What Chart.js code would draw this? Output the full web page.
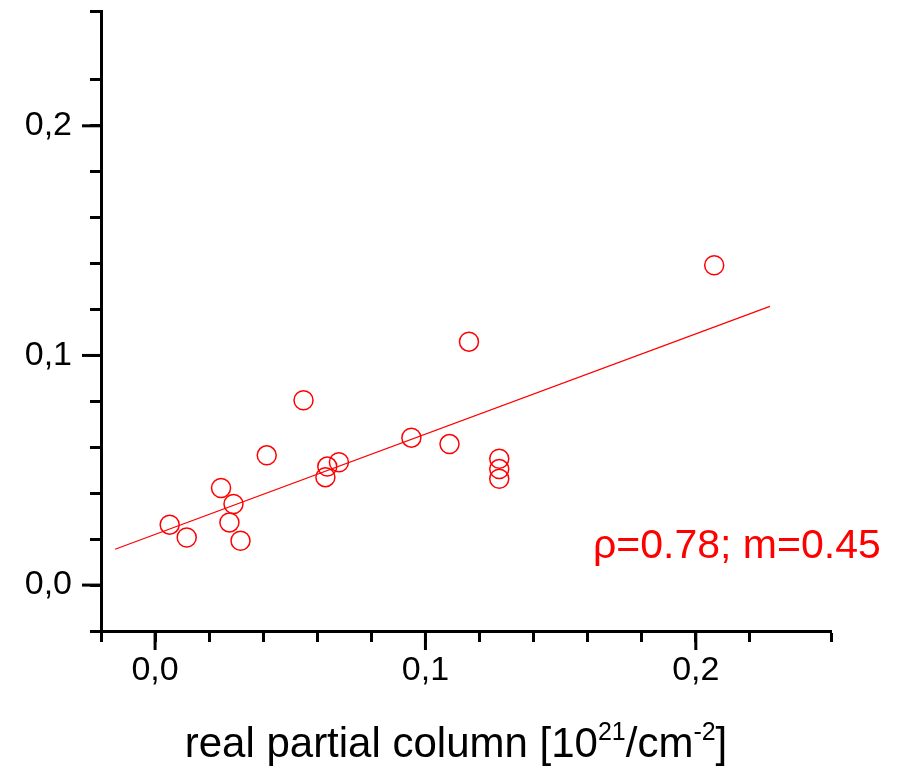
<!DOCTYPE html>
<html>
<head>
<meta charset="utf-8">
<script src="https://cdn.jsdelivr.net/npm/chart.js@4/dist/chart.umd.min.js"></script>
<style>
  html, body { margin: 0; padding: 0; background: #fff; }
</style>
</head>
<body>
<canvas id="scatterChart" width="900" height="774"></canvas>
<script>
// real partial column (x) vs. retrieved partial column (y)
const xVals = [0.0054, 0.0117, 0.0244, 0.0275, 0.0290, 0.0316, 0.0413, 0.0549, 0.0630,
               0.0637, 0.0680, 0.0948, 0.1089, 0.1161, 0.1273, 0.1273, 0.1273, 0.2068];
const yVals = [0.0263, 0.0207, 0.0423, 0.0273, 0.0353, 0.0193, 0.0565, 0.0805, 0.0470,
               0.0516, 0.0535, 0.0642, 0.0614, 0.1060, 0.0550, 0.0505, 0.0463, 0.1393];

// fitted line end points
const fitX = [-0.0148, 0.2274];
const fitY = [0.0156, 0.1214];

const noteText = 'ρ=0.78; m=0.45';
const titleParts = [
    { t: 'real partial column [10', sup: false },
    { t: '21', sup: true },
    { t: '/cm', sup: false },
    { t: '-2', sup: true },
    { t: ']', sup: false }
];

const FONT = '"Liberation Sans", Arial, sans-serif';

function isMajor(v) {
    return Math.abs(v / 0.1 - Math.round(v / 0.1)) < 1e-6;
}
function tickLabel(v) {
    return isMajor(v) ? v.toFixed(1).replace('.', ',') : '';
}

// longer major ticks, note text and axis title with superscripts
const overlay = {
    id: 'overlay',
    afterDraw(chart) {
        const ctx = chart.ctx;
        const xs = chart.scales.x, ys = chart.scales.y;
        ctx.save();
        ctx.strokeStyle = '#000';
        ctx.lineWidth = 3;
        xs.ticks.forEach(t => {
            if (!isMajor(t.value)) return;
            const px = xs.getPixelForValue(t.value);
            ctx.beginPath();
            ctx.moveTo(px, xs.top);
            ctx.lineTo(px, xs.top + 19);
            ctx.stroke();
        });
        ys.ticks.forEach(t => {
            if (!isMajor(t.value)) return;
            const py = ys.getPixelForValue(t.value);
            ctx.beginPath();
            ctx.moveTo(ys.right, py);
            ctx.lineTo(ys.right - 19, py);
            ctx.stroke();
        });

        ctx.fillStyle = '#ff0000';
        ctx.font = '41px ' + FONT;
        ctx.textBaseline = 'alphabetic';
        ctx.textAlign = 'left';
        ctx.fillText(noteText, 593, 558);

        ctx.fillStyle = '#000';
        const big = '42px ' + FONT, small = '25px ' + FONT;
        let total = 0;
        titleParts.forEach(p => {
            ctx.font = p.sup ? small : big;
            total += ctx.measureText(p.t).width;
        });
        let x = 456 - total / 2;
        titleParts.forEach(p => {
            ctx.font = p.sup ? small : big;
            ctx.fillText(p.t, x, p.sup ? 740 : 757);
            x += ctx.measureText(p.t).width;
        });
        ctx.restore();
    }
};

const ctxScatter = document.getElementById('scatterChart').getContext('2d');

const scatterChart = new Chart(ctxScatter, {
    type: 'scatter',
    data: {
        datasets: [{
            data: xVals.map((v, i) => ({ x: v, y: yVals[i] })),
            pointStyle: 'circle',
            pointRadius: 9.5,
            pointBorderWidth: 1.5,
            borderColor: '#ff0000',
            backgroundColor: 'rgba(0,0,0,0)',
            showLine: false
        }, {
            data: fitX.map((v, i) => ({ x: v, y: fitY[i] })),
            showLine: true,
            pointRadius: 0,
            borderColor: '#ff0000',
            borderWidth: 1.3,
            fill: false
        }]
    },
    options: {
        responsive: false,
        animation: false,
        layout: { padding: { top: 10, right: 69, left: 0, bottom: 0 } },
        plugins: { legend: { display: false }, tooltip: { enabled: false } },
        scales: {
            x: {
                type: 'linear',
                min: -0.02,
                max: 0.25,
                afterFit: s => { s.height = 143; s.paddingLeft = 0; s.paddingRight = 0; },
                border: { color: '#000', width: 3 },
                grid: { drawOnChartArea: false, tickLength: 11, tickWidth: 3, tickColor: '#000' },
                ticks: {
                    stepSize: 0.02,
                    autoSkip: false,
                    maxRotation: 0,
                    padding: 8,
                    color: '#000',
                    font: { family: FONT, size: 34 },
                    callback: v => tickLabel(v)
                }
            },
            y: {
                type: 'linear',
                min: -0.02,
                max: 0.25,
                afterFit: s => { s.width = 101; s.paddingTop = 0; s.paddingBottom = 0; },
                border: { color: '#000', width: 3 },
                grid: { drawOnChartArea: false, tickLength: 11, tickWidth: 3, tickColor: '#000' },
                ticks: {
                    stepSize: 0.02,
                    autoSkip: false,
                    padding: 18,
                    color: '#000',
                    font: { family: FONT, size: 34 },
                    callback: v => tickLabel(v)
                }
            }
        }
    },
    plugins: [overlay]
});
</script>
</body>
</html>
